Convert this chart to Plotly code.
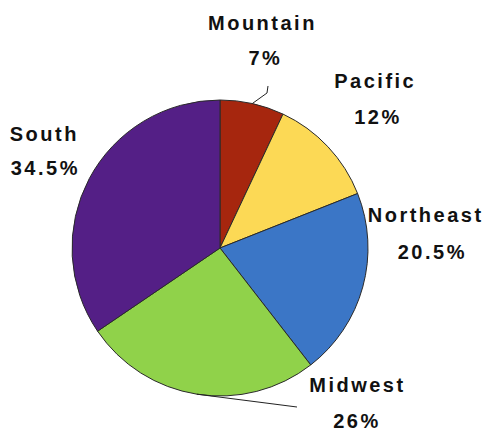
import math
import plotly.graph_objects as go

# data
regions = ["Mountain", "Pacific", "Northeast", "Midwest", "South"]
shares = [7, 12, 20.5, 26, 34.5]
pct_labels = ["7%", "12%", "20.5%", "26%", "34.5%"]
colors = ["#A6260E", "#FCD955", "#3B76C6", "#90D24A", "#541F86"]

W, H = 485, 433
CX, CY, R = 220, 248, 148  # pie centre / radius in px

# label placement (px): (name centre, percent centre)
label_pos = {
    "Mountain": ((262, 23), (265, 58)),
    "Pacific": ((375, 81), (378, 117)),
    "Northeast": ((426, 215), (432, 252)),
    "Midwest": ((357, 385), (357, 421)),
    "South": ((44, 134), (45, 168)),
}
# leader line end points (px) for the labels that get one
leaders = {
    "Mountain": [(267, 93), (268, 86)],
    "Midwest": [(297, 407)],
}


def px(x, y):
    return x / W, 1 - y / H


fig = go.Figure(go.Pie(
    labels=regions, values=shares, sort=False, direction="clockwise",
    rotation=0, textinfo="none", hoverinfo="label+percent",
    marker=dict(colors=colors, line=dict(color="#2a2a2a", width=1)),
    domain=dict(x=[(CX - R) / W, (CX + R) / W],
                y=[1 - (CY + R) / H, 1 - (CY - R) / H]),
    showlegend=False,
))

font = dict(family="Liberation Sans, Arial, sans-serif", size=20, color="#111111")
annotations = []
for name, pct in zip(regions, pct_labels):
    (nx, ny), (qx, qy) = label_pos[name]
    for txt, (x, y) in ((name, (nx, ny)), (pct, (qx, qy))):
        xx, yy = px(x, y)
        annotations.append(dict(text="<b>%s</b>" % txt, x=xx, y=yy, xref="paper", yref="paper",
                                showarrow=False, xanchor="center", yanchor="middle", font=font))

# leader lines start on the slice edge at its mid angle
shapes = []
total = sum(shares)
cum = 0
for name, v in zip(regions, shares):
    mid = (cum + v / 2) / total * 2 * math.pi
    cum += v
    if name not in leaders:
        continue
    pts = [(CX + R * math.sin(mid), CY - R * math.cos(mid))] + leaders[name]
    path = ""
    for i, (x, y) in enumerate(pts):
        xx, yy = px(x, y)
        path += ("M" if i == 0 else " L") + " %f %f" % (xx, yy)
    shapes.append(dict(type="path", path=path, xref="paper", yref="paper",
                       line=dict(color="#222222", width=1)))

fig.update_layout(
    width=W, height=H, margin=dict(l=0, r=0, t=0, b=0),
    paper_bgcolor="white", plot_bgcolor="white",
    annotations=annotations, shapes=shapes,
)

js = ("document.body.style.margin='0';document.body.style.overflow='hidden';"
      "document.querySelectorAll('.annotation-text').forEach(function(e){e.style.letterSpacing='2.5px';});")
fig.write_html("out.html", config={"displayModeBar": False}, post_script=js)
